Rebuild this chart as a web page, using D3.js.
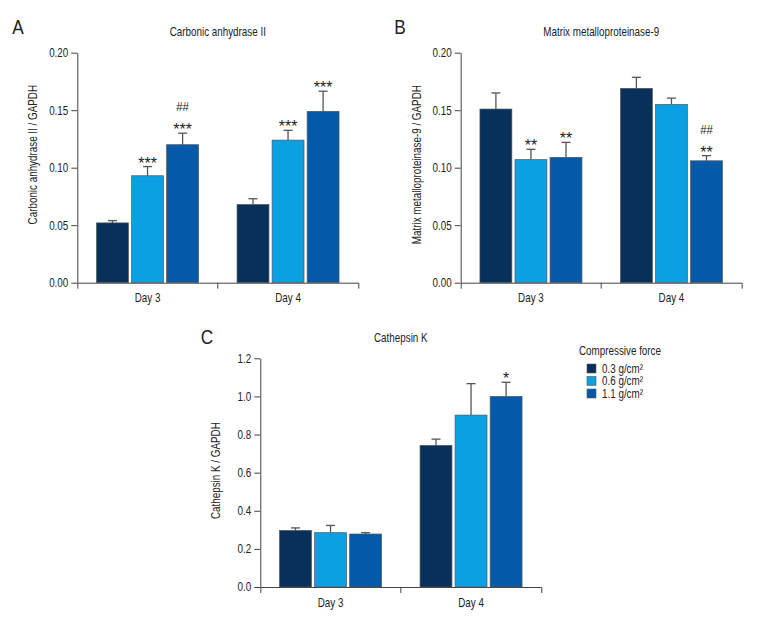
<!DOCTYPE html>
<html>
<head>
<meta charset="utf-8">
<script src="https://cdn.jsdelivr.net/npm/d3@7"></script>
<style>
  html, body { margin: 0; padding: 0; background: #fff; }
  svg text { font-family: "Liberation Sans", Arial, sans-serif; fill: #222; }
</style>
</head>
<body>
<svg id="chart" width="768" height="636"></svg>
<script>
// ---------- data ----------
const days = ["Day 3", "Day 4"];
const forces = ["0.3 g/cm²", "0.6 g/cm²", "1.1 g/cm²"];
const legendTitle = "Compressive force";

const caTitle = "Carbonic anhydrase II";
const caYLabel = "Carbonic anhydrase II / GAPDH";
const caValues = [[0.052, 0.093, 0.120], [0.068, 0.124, 0.149]];
const caErrors = [[0.002, 0.008, 0.010], [0.005, 0.0085, 0.0175]];
const caMarks = [[[], ["***"], ["***", "##"]], [[], ["***"], ["***"]]];
const caTicks = [0, 0.05, 0.10, 0.15, 0.20];

const mmpTitle = "Matrix metalloproteinase-9";
const mmpYLabel = "Matrix metalloproteinase-9 / GAPDH";
const mmpValues = [[0.151, 0.107, 0.109], [0.169, 0.155, 0.106]];
const mmpErrors = [[0.014, 0.009, 0.013], [0.0096, 0.0055, 0.0045]];
const mmpMarks = [[[], ["**"], ["**"]], [[], [], ["**", "##"]]];
const mmpTicks = [0, 0.05, 0.10, 0.15, 0.20];

const ctkTitle = "Cathepsin K";
const ctkYLabel = "Cathepsin K / GAPDH";
const ctkValues = [[0.297, 0.285, 0.278], [0.743, 0.902, 1.000]];
const ctkErrors = [[0.013, 0.038, 0.007], [0.033, 0.165, 0.074]];
const ctkMarks = [[[], [], []], [[], [], ["*"]]];
const ctkTicks = [0, 0.2, 0.4, 0.6, 0.8, 1.0, 1.2];

const colors = ["#07305a", "#0aa0e2", "#045aa8"];

// ---------- layout ----------
const panels = [
  { letter: "A", title: caTitle, ylabel: caYLabel, values: caValues, errors: caErrors, marks: caMarks, ticks: caTicks, fmt: ".2f",
    x0: 77.3, x1: 358.3, yTop: 52.7, yBot: 282.7, letterX: 18, letterY: 34, titleY: 36, ylabelDy: -13 },
  { letter: "B", title: mmpTitle, ylabel: mmpYLabel, values: mmpValues, errors: mmpErrors, marks: mmpMarks, ticks: mmpTicks, fmt: ".2f",
    x0: 460.7, x1: 741.7, yTop: 52.7, yBot: 282.7, letterX: 400, letterY: 34, titleY: 36, ylabelDy: -3 },
  { letter: "C", title: ctkTitle, ylabel: ctkYLabel, values: ctkValues, errors: ctkErrors, marks: ctkMarks, ticks: ctkTicks, fmt: ".1f",
    x0: 260.3, x1: 541.3, yTop: 358.3, yBot: 587, letterX: 207, letterY: 344, titleY: 342, ylabelDy: -2 }
];

const SX = 0.82; // narrow-face emulation
function condense(sel, sx = SX) {
  sel.each(function () {
    const t = d3.select(this);
    const x = +t.attr("x") || 0;
    const y = +t.attr("y") || 0;
    const prev = t.attr("transform") || `translate(${x},${y})`;
    if (!t.attr("transform")) { t.attr("x", 0).attr("y", 0); }
    t.attr("transform", `${prev} scale(${sx},1)`);
  });
}

const svg = d3.select("#chart");
const axisColor = "#444";

panels.forEach(p => {
  const g = svg.append("g");
  const maxV = p.ticks[p.ticks.length - 1];
  const y = d3.scaleLinear().domain([0, maxV]).range([p.yBot, p.yTop]);
  const xBand = d3.scaleBand().domain(days).range([p.x0, p.x1]).padding(0);
  const bw = xBand.bandwidth();
  const groupW = 102;
  const xInner = d3.scaleBand().domain(forces).range([(bw - groupW) / 2, (bw + groupW) / 2]).paddingInner(0.09).paddingOuter(0);

  // y axis
  const yAxis = d3.axisLeft(y).tickValues(p.ticks).tickFormat(d3.format(p.fmt)).tickSizeInner(6).tickSizeOuter(0).tickPadding(3);
  const ya = g.append("g").attr("transform", `translate(${p.x0},0)`).call(yAxis);
  ya.selectAll("path, line").attr("stroke", axisColor).attr("stroke-width", 1);
  ya.selectAll("text").attr("font-size", 12).attr("fill", "#222").call(condense);

  // x axis
  const xAxis = d3.axisBottom(xBand).tickSizeInner(0).tickSizeOuter(6).tickPadding(11);
  const xa = g.append("g").attr("transform", `translate(0,${p.yBot})`).call(xAxis);
  xa.selectAll("path").attr("stroke", axisColor).attr("stroke-width", 1);
  xa.selectAll("text").attr("font-size", 12).attr("fill", "#222").call(condense);
  xa.append("line")
    .attr("x1", xBand(days[1])).attr("x2", xBand(days[1]))
    .attr("y1", 0).attr("y2", 6)
    .attr("stroke", axisColor).attr("stroke-width", 1);

  // bars
  days.forEach((day, di) => {
    const grp = g.append("g").attr("transform", `translate(${xBand(day)},0)`);
    forces.forEach((f, fi) => {
      const v = p.values[di][fi];
      const e = p.errors[di][fi];
      const bx = xInner(f);
      const cx = bx + xInner.bandwidth() / 2;
      grp.append("line")
        .attr("x1", cx).attr("x2", cx)
        .attr("y1", y(v)).attr("y2", y(v + e))
        .attr("stroke", "#555").attr("stroke-width", 1.3);
      grp.append("line")
        .attr("x1", cx - 4.5).attr("x2", cx + 4.5)
        .attr("y1", y(v + e)).attr("y2", y(v + e))
        .attr("stroke", "#555").attr("stroke-width", 1.3);
      grp.append("rect")
        .attr("x", bx).attr("y", y(v))
        .attr("width", xInner.bandwidth()).attr("height", y(0) - y(v))
        .attr("fill", colors[fi]).attr("stroke", "#555").attr("stroke-width", 0.7);
      const top = y(v + e);
      p.marks[di][fi].forEach((m, mi) => {
        const isStar = m.indexOf("*") >= 0;
        grp.append("text")
          .attr("x", cx)
          .attr("y", mi === 0 ? top + (isStar ? 2 : -4) : top - 22)
          .attr("text-anchor", "middle")
          .attr("font-size", isStar ? 16 : 12)
          .attr("fill", "#333")
          .text(m)
          .call(condense, isStar ? 1.0 : 0.95);
      });
    });
  });

  // title
  g.append("text")
    .attr("x", (p.x0 + p.x1) / 2).attr("y", p.titleY)
    .attr("text-anchor", "middle").attr("font-size", 12)
    .text(p.title).call(condense);

  // panel letter
  g.append("text")
    .attr("x", p.letterX).attr("y", p.letterY)
    .attr("text-anchor", "middle").attr("font-size", 21)
    .text(p.letter).call(condense);

  // y label
  const yc = (p.yTop + p.yBot) / 2 + p.ylabelDy;
  g.append("text")
    .attr("transform", `translate(${p.x0 - 40},${yc}) rotate(-90)`)
    .attr("text-anchor", "middle").attr("font-size", 12)
    .text(p.ylabel).call(condense);
});

// legend
const leg = svg.append("g").attr("transform", "translate(579,355)");
leg.append("text").attr("x", 0).attr("y", 0).attr("font-size", 12).text(legendTitle).call(condense);
forces.forEach((f, i) => {
  const row = leg.append("g").attr("transform", `translate(8,${9 + i * 12.5})`);
  row.append("rect").attr("x", 0).attr("y", 0).attr("width", 9).attr("height", 9)
    .attr("fill", colors[i]).attr("stroke", "#555").attr("stroke-width", 0.6);
  row.append("text").attr("x", 15).attr("y", 8.5).attr("font-size", 12).text(f).call(condense);
});
</script>
</body>
</html>
